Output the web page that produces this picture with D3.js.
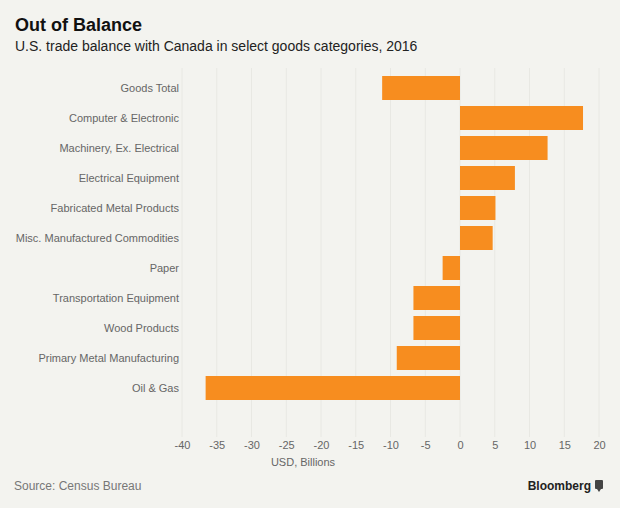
<!DOCTYPE html>
<html><head><meta charset="utf-8">
<script src="https://cdn.jsdelivr.net/npm/d3@7"></script>
<style>
body{margin:0;background:#f3f3ef;}
svg{display:block;font-family:"Liberation Sans",Arial,sans-serif;}
</style></head>
<body><svg id="c" width="620" height="508"></svg>
<script>
const categories = ["Goods Total","Computer & Electronic","Machinery, Ex. Electrical","Electrical Equipment","Fabricated Metal Products","Misc. Manufactured Commodities","Paper","Transportation Equipment","Wood Products","Primary Metal Manufacturing","Oil & Gas"];
const values = [-11.2,17.7,12.6,7.9,5.1,4.7,-2.5,-6.7,-6.7,-9.1,-36.6];
const tickValues = [-40,-35,-30,-25,-20,-15,-10,-5,0,5,10,15,20];

const svg = d3.select("#c");
svg.append("rect").attr("width",620).attr("height",508).attr("fill","#f3f3ef");

const x = d3.scaleLinear().domain([-40,20]).range([182,599]);
const y = d3.scaleBand().domain(categories).range([73,403]).paddingInner(0.2).paddingOuter(0.1);

// gridlines
svg.append("g").selectAll("line").data(tickValues).join("line")
  .attr("x1",d=>x(d)).attr("x2",d=>x(d)).attr("y1",68).attr("y2",437)
  .attr("stroke","#e8e8e3").attr("stroke-width",1);

// bars
svg.append("g").selectAll("rect").data(categories).join("rect")
  .attr("x",(d,i)=>x(Math.min(0,values[i])))
  .attr("width",(d,i)=>Math.abs(x(values[i])-x(0)))
  .attr("y",d=>y(d)).attr("height",y.bandwidth())
  .attr("fill","#f78d1f");

// category labels
const yAxis = d3.axisLeft(y).tickSize(0).tickPadding(0);
const gy = svg.append("g").attr("transform","translate(179,0)").call(yAxis);
gy.select(".domain").remove();
gy.selectAll("text").attr("fill","#666").style("font-size","11px").style("font-family","Liberation Sans, Arial, sans-serif");

// x axis
const xAxis = d3.axisBottom(x).tickValues(tickValues).tickFormat(d=>String(d)).tickSize(0).tickPadding(0);
const gx = svg.append("g").attr("transform","translate(0,441)").call(xAxis);
gx.select(".domain").remove();
gx.selectAll("text").attr("fill","#666").style("font-size","11px").style("font-family","Liberation Sans, Arial, sans-serif");

svg.append("text").attr("x",303).attr("y",466).attr("text-anchor","middle")
  .attr("fill","#666").style("font-size","11px").text("USD, Billions");

// titles
svg.append("text").attr("x",15).attr("y",31).attr("fill","#111")
  .style("font-size","18px").style("font-weight","bold").text("Out of Balance");
svg.append("text").attr("x",15).attr("y",51).attr("fill","#222")
  .style("font-size","14px").text("U.S. trade balance with Canada in select goods categories, 2016");

// footer
svg.append("text").attr("x",14).attr("y",490).attr("fill","#777")
  .style("font-size","12px").text("Source: Census Bureau");
svg.append("text").attr("x",591).attr("y",490).attr("text-anchor","end").attr("fill","#222")
  .style("font-size","12px").style("font-weight","bold").text("Bloomberg");
svg.append("rect").attr("x",595).attr("y",480).attr("width",8).attr("height",9).attr("rx",1).attr("fill","#444");
svg.append("path").attr("d","M597,489 L599,492 L601,489 Z").attr("fill","#444");
</script></body></html>
